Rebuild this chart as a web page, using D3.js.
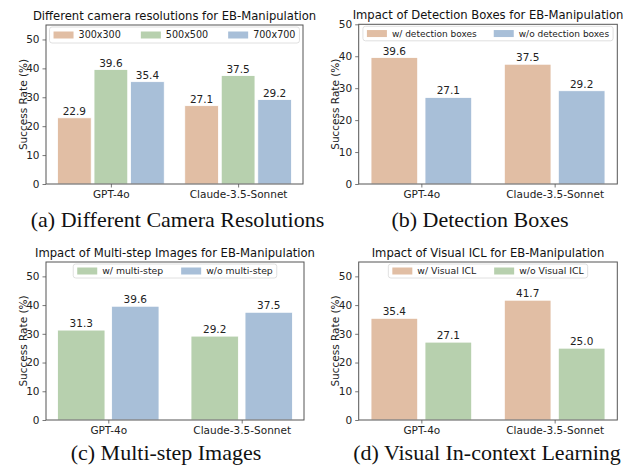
<!DOCTYPE html>
<html><head><meta charset="utf-8">
<script src="https://cdn.jsdelivr.net/npm/d3@7"></script>
<style>body{margin:0;background:#fff}svg{display:block}</style>
</head><body>
<svg id="c" width="624" height="468"></svg>
<script>
const models = ["GPT-4o", "Claude-3.5-Sonnet"];
const yTicks = [0, 10, 20, 30, 40, 50];

const titleA = "Different camera resolutions for EB-Manipulation";
const seriesA = ["300x300", "500x500", "700x700"];
const valuesA = [[22.9, 27.1], [39.6, 37.5], [35.4, 29.2]];
const captionA = "(a) Different Camera Resolutions";

const titleB = "Impact of Detection Boxes for EB-Manipulation";
const seriesB = ["w/ detection boxes", "w/o detection boxes"];
const valuesB = [[39.6, 37.5], [27.1, 29.2]];
const captionB = "(b) Detection Boxes";

const titleC = "Impact of Multi-step Images for EB-Manipulation";
const seriesC = ["w/ multi-step", "w/o multi-step"];
const valuesC = [[31.3, 29.2], [39.6, 37.5]];
const captionC = "(c) Multi-step Images";

const titleD = "Impact of Visual ICL for EB-Manipulation";
const seriesD = ["w/ Visual ICL", "w/o Visual ICL"];
const valuesD = [[35.4, 41.7], [27.1, 25.0]];
const captionD = "(d) Visual In-context Learning";

const PEACH = "#e1bea4", GREEN = "#b7d0ae", BLUE = "#a8bfd8";

const svg = d3.select("#c");
const FS = 10.5;

function panel(o) {
  const g = svg.append("g");
  const x = d3.scaleLinear().domain(o.xlim).range([o.left, o.right]);
  const y = d3.scaleLinear().domain([0, o.ymax]).range([o.bottom, o.top]);
  const n = o.series.length;
  // bars
  o.series.forEach((s, si) => {
    const off = (si - (n - 1) / 2) * o.step;
    const data = o.values[si].map((v, mi) => ({v, mi}));
    g.selectAll(null).data(data).enter().append("rect")
      .attr("x", d => x(d.mi + off - o.bw / 2))
      .attr("width", d => x(d.mi + off + o.bw / 2) - x(d.mi + off - o.bw / 2))
      .attr("y", d => y(d.v))
      .attr("height", d => y(0) - y(d.v))
      .attr("fill", o.colors[si])
      .attr("stroke", "#fff").attr("stroke-width", 0.8);
    g.selectAll(null).data(data).enter().append("text")
      .attr("x", d => x(d.mi + off))
      .attr("y", d => y(d.v) - 3)
      .attr("text-anchor", "middle")
      .attr("font-family", "DejaVu Sans").attr("font-size", FS).attr("fill", "#222")
      .text(d => d.v.toFixed(1));
  });
  // axes
  const ya = g.append("g").attr("transform", `translate(${o.left},0)`)
    .call(d3.axisLeft(y).tickValues(yTicks).tickSize(3.5).tickPadding(3));
  const xa = g.append("g").attr("transform", `translate(0,${o.bottom})`)
    .call(d3.axisBottom(x).tickValues([0, 1]).tickFormat(i => models[i]).tickSize(3.5).tickPadding(3));
  [ya, xa].forEach(a => {
    a.select(".domain").remove();
    a.selectAll("text").attr("font-family", "DejaVu Sans").attr("font-size", FS).attr("fill", "#222");
    a.selectAll("line").attr("stroke", "#555").attr("stroke-width", 0.8);
  });
  g.append("rect").attr("x", o.left).attr("y", o.top)
    .attr("width", o.right - o.left).attr("height", o.bottom - o.top)
    .attr("fill", "none").attr("stroke", "#555").attr("stroke-width", 1);
  // y label
  g.append("text")
    .attr("transform", `translate(${o.left - 23},${(o.top + o.bottom) / 2}) rotate(-90)`)
    .attr("text-anchor", "middle").attr("dy", "0.35em")
    .attr("font-family", "DejaVu Sans").attr("font-size", FS).attr("fill", "#222")
    .text("Success Rate (%)");
  // title
  g.append("text").attr("x", (o.left + o.right) / 2).attr("y", o.top - 5)
    .attr("text-anchor", "middle")
    .attr("font-family", "DejaVu Sans").attr("font-size", 11.6).attr("fill", "#111")
    .text(o.title);
  // legend
  const lg = g.append("g");
  const box = lg.append("rect");
  const fs = o.legendFs, pw = 20, ph = 7, tp = 5, cs = o.colSp;
  let cx = 0;
  o.series.forEach((s, si) => {
    lg.append("rect").attr("x", cx).attr("y", -ph / 2).attr("width", pw).attr("height", ph)
      .attr("fill", o.colors[si]);
    const t = lg.append("text").attr("x", cx + pw + tp).attr("y", 0).attr("dy", "0.35em")
      .attr("font-family", "DejaVu Sans").attr("font-size", fs).attr("fill", "#222").text(s);
    cx += pw + tp + t.node().getComputedTextLength() + cs;
  });
  const w = cx - cs, pad = 4;
  const bh = o.legendH;
  box.attr("x", -pad).attr("y", -bh / 2).attr("width", w + 2 * pad).attr("height", bh)
    .attr("rx", 2.5).attr("fill", "#fff").attr("fill-opacity", 0.85)
    .attr("stroke", "#d8d8d8").attr("stroke-width", 0.8);
  lg.attr("transform", `translate(${(o.left + o.right) / 2 - w / 2},${o.top + 2 + bh / 2})`);
  // caption
  svg.append("text").attr("x", o.capX).attr("y", o.capY).attr("text-anchor", "middle")
    .attr("font-family", "Liberation Serif").attr("font-size", 22).attr("fill", "#111")
    .text(o.caption);
}

panel({title: titleA, series: seriesA, values: valuesA, colors: [PEACH, GREEN, BLUE], caption: captionA,
  left: 46, right: 303, top: 25, bottom: 184, ymax: 55, xlim: [-0.51, 1.51], bw: 0.265, step: 0.287,
  legendFs: 9.6, legendH: 16, colSp: 20, capX: 177.5, capY: 227});
panel({title: titleB, series: seriesB, values: valuesB, colors: [PEACH, BLUE], caption: captionB,
  left: 358.7, right: 617.3, top: 24.3, bottom: 184, ymax: 50, xlim: [-0.47, 1.47], bw: 0.35, step: 0.405,
  legendFs: 9, legendH: 14.5, colSp: 17, capX: 480, capY: 227});
panel({title: titleC, series: seriesC, values: valuesC, colors: [GREEN, BLUE], caption: captionC,
  left: 46, right: 304, top: 262, bottom: 420, ymax: 55, xlim: [-0.467, 1.467], bw: 0.355, step: 0.405,
  legendFs: 9.3, legendH: 14, colSp: 18, capX: 166, capY: 460});
panel({title: titleD, series: seriesD, values: valuesD, colors: [PEACH, GREEN], caption: captionD,
  left: 358.7, right: 617.3, top: 262, bottom: 420, ymax: 55, xlim: [-0.47, 1.47], bw: 0.35, step: 0.405,
  legendFs: 9.3, legendH: 14, colSp: 18, capX: 487, capY: 460});
</script>
</body></html>
